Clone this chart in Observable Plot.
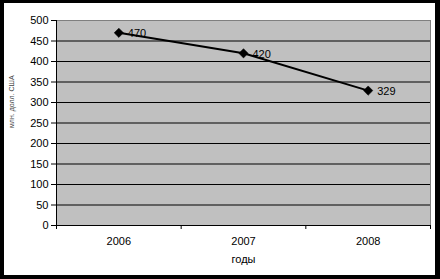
<!DOCTYPE html>
<html>
<head>
<meta charset="utf-8">
<script src="https://cdn.jsdelivr.net/npm/d3@7"></script>
<script src="https://cdn.jsdelivr.net/npm/@observablehq/plot@0.6"></script>
<style>
  html, body { margin: 0; padding: 0; background: #fff; }
  #wrap { position: relative; width: 440px; height: 279px; }
  #border { position: absolute; left: 0; top: 0; width: 440px; height: 279px; box-sizing: border-box;
            border-style: solid; border-color: #000; border-width: 3px 5px 4px 4px; pointer-events: none; }
  svg { display: block; font-family: "Liberation Sans", Arial, sans-serif; }
</style>
</head>
<body>
<div id="wrap"><div id="border"></div></div>
<script>
const years = [2006, 2007, 2008];
const values = [470, 420, 329];
const yTicks = [0, 50, 100, 150, 200, 250, 300, 350, 400, 450, 500];
const gridTicks = [50, 100, 150, 200, 250, 300, 350, 400, 450];
const xBoundaries = [2005.5, 2006.5, 2007.5, 2008.5];
const xLabel = "годы";
const yLabel = "млн. долл. США";

const data = years.map((y, i) => ({year: y, value: values[i]}));

const chart = Plot.plot({
  width: 440,
  height: 279,
  marginLeft: 56,
  marginRight: 10,
  marginTop: 20,
  marginBottom: 54,
  style: {fontFamily: "Liberation Sans, Arial, sans-serif", fontSize: "11px", color: "#000", background: "transparent"},
  x: {domain: [2005.5, 2008.5]},
  y: {domain: [0, 500]},
  marks: [
    Plot.frame({fill: "#c0c0c0", stroke: "#808080"}),
    Plot.ruleY(gridTicks, {stroke: "#000", strokeWidth: 1}),
    Plot.ruleY([0], {stroke: "#000"}),
    Plot.ruleX([2005.5], {stroke: "#000"}),
    Plot.axisY({ticks: yTicks, tickSize: 5, tickPadding: 3, label: null, fontSize: 11}),
    Plot.axisX({ticks: xBoundaries, tickSize: 4, tickFormat: () => "", label: null}),
    Plot.axisX({ticks: years, tickSize: 0, tickPadding: 12, tickFormat: d => String(d), label: null, fontSize: 11}),
    Plot.text([xLabel], {frameAnchor: "bottom", dy: 37, fontSize: 11}),
    Plot.text([yLabel], {frameAnchor: "left", rotate: -90, dx: -45, dy: 5, fontSize: 7, fill: "#444"}),
    Plot.line(data, {x: "year", y: "value", stroke: "#000", strokeWidth: 2}),
    Plot.dot(data, {x: "year", y: "value", symbol: "diamond2", r: 4.2, fill: "#000", stroke: "#000", strokeWidth: 0.5}),
    Plot.text(data, {x: "year", y: "value", text: d => String(d.value), textAnchor: "start", dx: 9, dy: 1, fontSize: 11, fill: "#000"})
  ]
});
document.getElementById("wrap").prepend(chart);
</script>
</body>
</html>
